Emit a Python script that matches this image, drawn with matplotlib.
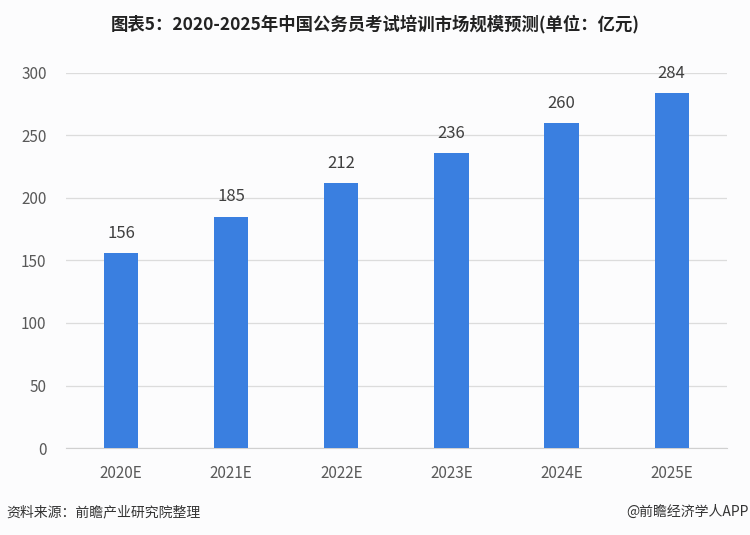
import matplotlib.pyplot as plt

plt.rcParams['font.family'] = ['Noto Sans CJK SC', 'DejaVu Sans']

years = ['2020E', '2021E', '2022E', '2023E', '2024E', '2025E']
values = [156, 185, 212, 236, 260, 284]
yticks = [0, 50, 100, 150, 200, 250, 300]

bg = '#fcfcfd'
fig = plt.figure(figsize=(7.5, 5.35), dpi=100, facecolor=bg)
ax = fig.add_axes([0.088, 0.1626, 0.881, 0.701], facecolor=bg)

x = range(len(years))
ax.bar(x, values, width=0.31, color='#3a7fe0', zorder=3)
for i, v in zip(x, values):
    ax.text(i, v + 9, str(v), ha='center', va='bottom', fontsize=12, color='#404040')

ax.set_xlim(-0.5, len(years) - 0.5)
ax.set_ylim(0, 300)
ax.set_yticks(yticks)
ax.set_xticks(list(x))
ax.set_xticklabels(years)
ax.grid(axis='y', color='#dcdcdc', linewidth=0.9, zorder=0)
for s in ['top', 'right', 'left']:
    ax.spines[s].set_visible(False)
ax.spines['bottom'].set_color('#d0d0d0')
ax.tick_params(axis='both', length=0, labelsize=11, colors='#595959')
ax.tick_params(axis='x', pad=12)
ax.tick_params(axis='y', pad=14)

fig.text(0.5, 0.955, '图表5：2020-2025年中国公务员考试培训市场规模预测(单位：亿元)',
         ha='center', va='center', fontsize=12.5, fontweight='bold', color='#222222')
fig.text(0.008, 0.043, '资料来源：前瞻产业研究院整理', ha='left', va='center',
         fontsize=10, color='#333333')
fig.text(0.998, 0.043, '@前瞻经济学人APP', ha='right', va='center',
         fontsize=10, color='#333333')

fig.savefig('out.png', dpi=100, facecolor=bg)
